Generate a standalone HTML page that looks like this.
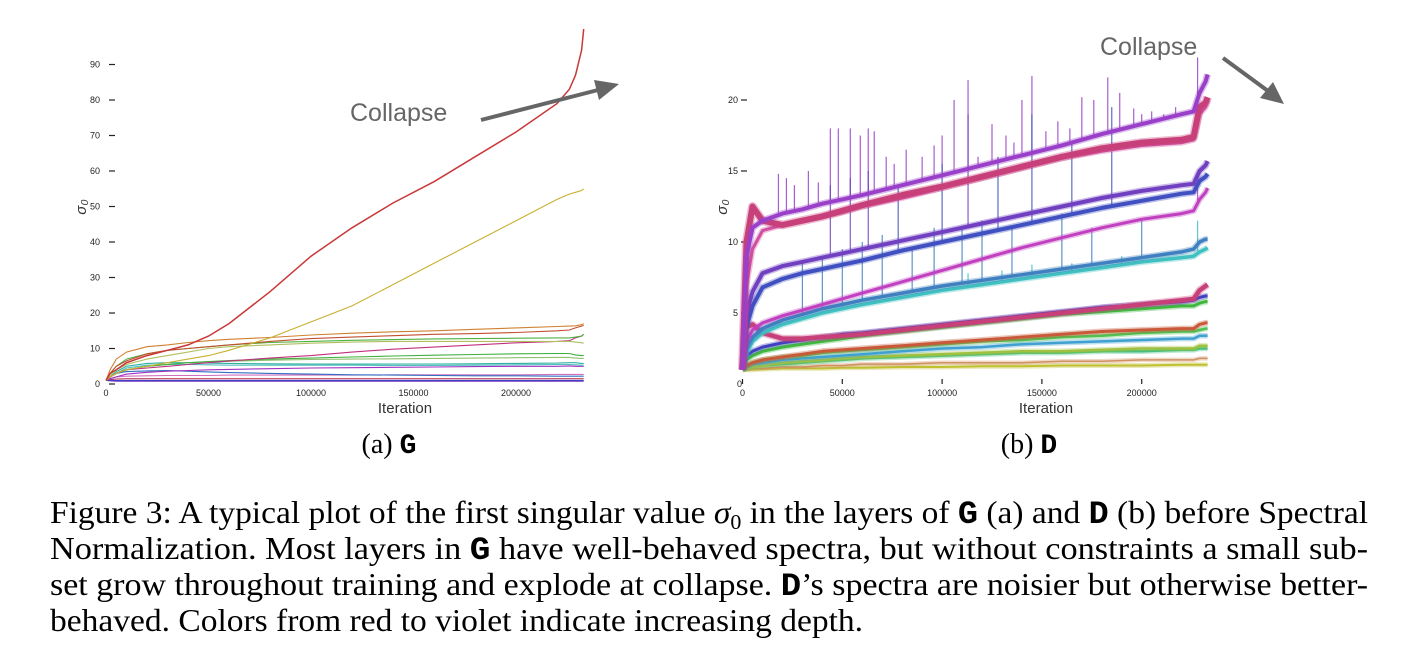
<!DOCTYPE html>
<html><head><meta charset="utf-8"><style>
body{margin:0;background:#fff;width:1406px;height:658px;overflow:hidden}
svg{display:block}
.tk{font-family:"Liberation Sans",sans-serif;font-size:9px;fill:#222}
.ax{font-family:"Liberation Sans",sans-serif;font-size:15px;fill:#333}
.cap{font-family:"Liberation Serif",serif;font-size:32px;fill:#000}
.mono{font-family:"Liberation Mono",monospace;font-weight:bold}
.col{font-family:"Liberation Sans",sans-serif;font-size:25px;fill:#666}
</style></head><body>
<svg id="fig" width="1406" height="658">
<g id="gA"></g>
<g id="gB"></g>
<text x="389" y="453" text-anchor="middle" style="font-family:'Liberation Serif',serif;font-size:28px">(a) <tspan class="mono">G</tspan></text>
<text x="1029" y="453" text-anchor="middle" style="font-family:'Liberation Serif',serif;font-size:28px">(b) <tspan class="mono">D</tspan></text>
<g>
<text class="cap" x="50" y="523" textLength="1318" lengthAdjust="spacingAndGlyphs">Figure 3: A typical plot of the first singular value <tspan font-style="italic">σ</tspan><tspan font-size="21" dy="6">0</tspan><tspan dy="-6"> in the layers of </tspan><tspan class="mono">G</tspan> (a) and <tspan class="mono">D</tspan> (b) before Spectral</text>
<text class="cap" x="50" y="559" textLength="1318" lengthAdjust="spacingAndGlyphs">Normalization.  Most layers in <tspan class="mono">G</tspan> have well-behaved spectra, but without constraints a small sub-</text>
<text class="cap" x="50" y="595" textLength="1318" lengthAdjust="spacingAndGlyphs">set grow throughout training and explode at collapse. <tspan class="mono">D</tspan>’s spectra are noisier but otherwise better-</text>
<text class="cap" x="50" y="631" textLength="813" lengthAdjust="spacingAndGlyphs">behaved. Colors from red to violet indicate increasing depth.</text>
</g>
</svg>
<script>
const iters=[0,2000,5000,10000,20000,30000,40000,50000,60000,80000,100000,120000,140000,160000,180000,200000,220000,226000,229000,232000,233000];
const gColors=["#c83838","#c8b030","#d08030","#c05030","#50b040","#b0c060","#c03080","#40b040","#90c070","#30b0a0","#50c0c0","#a030c0","#3070c0","#d070c0","#4040c0","#7030c0","#c04060"];
const gSeries=[
[1,3,4,6,8,9.5,11,13.5,17,26,36,44,51,57,64,71,79,83,87,94,100],
[1,2,3,4,5,6,7,8,9.5,13,17.5,22,28,34,40,46,52,53.5,54,54.5,55],
[1,4,7,9,10.5,11,11.7,12.2,12.6,13.1,13.8,14.3,14.7,15,15.4,15.8,16.2,16.3,16.4,16.7,17],
[1,3,5,6.5,8.5,9.5,10,10.5,11,12,12.8,13.2,13.6,14,14.2,14.5,15,15.2,15.8,16.3,16.5],
[1,3,5,7,8.5,9.5,10,10.5,11,11.7,12,12.3,12.5,12.7,12.8,12.9,13,13,13.2,13.5,14],
[1,2.5,4,5.5,7,8,9,10,10.5,11,11.5,11.8,12,12,12,12,12,12,11.8,11.6,11.5],
[1,2,3,4,4.5,5,5.5,6,6.5,7.3,8,9,9.8,10.4,11,11.6,12,12.2,13,13.5,14],
[1,2,3,4,5,5.5,6,6.3,6.6,7,7.3,7.6,7.9,8.1,8.3,8.5,8.6,8.6,8.2,8,8],
[1,2,3,4,5,5.5,6,6.2,6.4,6.7,6.9,7,7.1,7.2,7.3,7.4,7.5,7.5,7.3,7.2,7.2],
[1,2,3.5,5,5.8,6,6,5.9,5.8,5.7,5.6,5.6,5.6,5.6,5.7,5.8,5.9,6,6,5.8,5.8],
[1,2,3,4.5,5.3,5.5,5.5,5.4,5.3,5.3,5.3,5.3,5.2,5.2,5.3,5.4,5.5,5.5,5.4,5.3,5.3],
[1,1.5,2,2.8,3.3,3.6,3.8,4,4.1,4.3,4.5,4.6,4.7,4.8,4.9,5,5,5.1,5,5,5],
[1,2,3,3.5,3.7,3.8,3.6,3.4,3.2,3,2.8,2.6,2.5,2.4,2.3,2.3,2.2,2.2,2.2,2.2,2.2],
[1,1.5,2,2.2,2.3,2.4,2.4,2.4,2.5,2.5,2.5,2.5,2.6,2.6,2.6,2.6,2.7,2.7,2.7,2.7,2.7],
[1,1,1,1,1,1,1,1,1,1,1,1,1,1,1,1,1,1,1,1,1],
[1,0.9,0.8,0.8,0.8,0.8,0.8,0.8,0.8,0.8,0.8,0.8,0.8,0.8,0.8,0.8,0.8,0.8,0.8,0.8,0.8],
[1,1.2,1.4,1.5,1.5,1.5,1.5,1.5,1.5,1.5,1.5,1.5,1.5,1.5,1.5,1.5,1.5,1.5,1.5,1.5,1.5]];
const gYTicks=[0,10,20,30,40,50,60,70,80,90];
const xTicks=[0,50000,100000,150000,200000];

const dColors=["#9a40c8","#c8407a","#d050a0","#7040c0","#4050c0","#c040c0","#4080c0","#40c0c0","#c8407a","#4040c0","#40b840","#c85a3a","#50c050","#40a0d0","#a0c040","#40c080","#d09060","#c0c030"];
const dWidths=[4,6,3,4,4,3,3.5,3.5,4.5,3,3,3,2.5,2.5,2.5,2.5,1.5,2];
const dSeries=[
[1,9,11,11.5,12,12.3,12.7,13,13.3,14,14.7,15.4,16.1,16.8,17.6,18.3,19,19.2,20.5,21.3,21.8],
[1,10,12.5,11.5,11.2,11.5,11.8,12.2,12.6,13.3,13.9,14.6,15.3,16,16.6,17,17.2,17.4,19.5,19.8,20.2],
[1,7,9.5,10.8,11.2,11.5,11.8,12.1,12.5,13.1,13.8,14.5,15.2,15.9,16.4,16.8,17,17.2,19,19.5,20],
[1,5,6.5,7.8,8.3,8.6,8.9,9.2,9.5,10.1,10.7,11.3,11.9,12.5,13.1,13.6,14,14.1,15,15.4,15.7],
[1,4,5.5,6.8,7.4,7.8,8.1,8.4,8.7,9.4,10,10.6,11.2,11.8,12.4,12.9,13.4,13.5,14.3,14.6,14.8],
[1,3,3.8,4.3,4.8,5.2,5.6,6,6.4,7.2,8,8.8,9.6,10.3,11,11.6,12,12.2,13,13.5,13.8],
[1,2.5,3.3,3.9,4.5,4.9,5.3,5.6,5.9,6.4,6.9,7.3,7.7,8.1,8.5,8.9,9.3,9.5,10,10.2,10.2],
[1,2.2,3,3.6,4.2,4.6,5,5.3,5.6,6.1,6.6,7,7.4,7.8,8.2,8.6,8.9,9,9.3,9.5,9.6],
[1,4,4.2,3.6,3.2,3.2,3.3,3.4,3.5,3.8,4.1,4.4,4.7,5,5.3,5.6,5.9,6,6.6,6.9,7],
[1,2,2.3,2.6,2.9,3.1,3.3,3.5,3.6,3.9,4.2,4.5,4.8,5.1,5.4,5.6,5.8,5.9,6.1,6.2,6.2],
[1,1.7,2,2.3,2.6,2.8,3,3.2,3.4,3.7,4,4.3,4.6,4.9,5.1,5.3,5.5,5.5,5.7,5.8,5.8],
[1,1.3,1.5,1.7,1.9,2.1,2.3,2.4,2.5,2.7,2.9,3.1,3.3,3.5,3.7,3.8,3.9,3.9,4.2,4.3,4.3],
[1,1.3,1.5,1.7,1.9,2,2.2,2.3,2.4,2.6,2.8,3,3.1,3.3,3.4,3.6,3.7,3.7,3.8,3.9,3.9],
[1,1.2,1.4,1.5,1.7,1.8,1.9,2,2.1,2.3,2.5,2.6,2.8,2.9,3,3.1,3.2,3.2,3.4,3.4,3.4],
[1,1.1,1.2,1.3,1.5,1.6,1.7,1.8,1.9,2,2.1,2.2,2.3,2.3,2.4,2.5,2.5,2.5,2.7,2.7,2.7],
[1,1.1,1.2,1.3,1.4,1.5,1.6,1.7,1.8,1.9,2,2.1,2.2,2.2,2.3,2.3,2.4,2.4,2.5,2.5,2.5],
[1,1,1.1,1.1,1.2,1.2,1.3,1.3,1.4,1.4,1.5,1.5,1.5,1.6,1.6,1.7,1.7,1.7,1.8,1.8,1.8],
[1,1,1,1.05,1.1,1.1,1.1,1.15,1.15,1.2,1.2,1.25,1.25,1.3,1.3,1.3,1.35,1.35,1.35,1.35,1.35]];
// spikes: iteration, top value, series index
const spikeIters=[18000,22000,26000,33000,38000,44000,48000,54000,59000,63000,66000,72000,76000,82000,90000,96000,100000,106000,113000,118000,125000,132000,136000,140000,145000,152000,158000,164000,170000,176000,183000,189000,196000,200000,205000,211000,217000,228000,
44000,54000,63000,78000,100000,113000,128000,145000,165000,185000,
30000,40000,50000,60000,70000,85000,96000,110000,120000,135000,160000,175000,200000,228000,
20000,35000,50000,66000,90000,113000,130000,145000,165000,190000,228000];
const spikeTops=[14.8,14.5,14,15,14.2,18,18,18,17.5,18,17.8,16,15.5,16.5,16,16.8,17.5,20,21.4,16,18.3,17.5,17,20,21.7,17.8,18.5,18,20.2,20,21.6,20.5,19.4,19,19.2,19,19.5,23,
14,14.5,15,14,15.5,19,16,19,17,19.5,
8.5,9,9.5,10,10.5,9.5,11,11,11.5,11,12,11,11.5,14,
4.2,4.8,5.5,6,6.8,7.8,8,8.4,8.5,9,11.5];
const spikeSeries=[0,0,0,0,0,0,0,0,0,0,0,0,0,0,0,0,0,0,0,0,0,0,0,0,0,0,0,0,0,0,0,0,0,0,0,0,0,0,
3,3,3,4,4,3,4,4,4,4,
6,6,6,6,6,6,6,6,6,6,6,6,6,5,
7,7,7,7,7,7,7,7,7,7,7];
const dYTicks=[0,5,10,15,20];

const NS="http://www.w3.org/2000/svg";
function mk(tag,attrs,parent){const e=document.createElementNS(NS,tag);for(const k in attrs)e.setAttribute(k,attrs[k]);parent.appendChild(e);return e;}
function lerp(arr,it){for(let i=1;i<iters.length;i++){if(it<=iters[i]){const t=(it-iters[i-1])/(iters[i]-iters[i-1]);return arr[i-1]+t*(arr[i]-arr[i-1]);}}return arr[arr.length-1];}

// ---- chart G ----
(function(){
const g=document.getElementById('gA');
const X=v=>106+v/50000*102.5, Y=v=>384-v*3.55;
gYTicks.forEach(t=>{
 const tx=mk('text',{x:100,y:Y(t)+3,'text-anchor':'end',class:'tk'},g);tx.textContent=t;
 
 
 mk('line',{x1:109,x2:115,y1:Y(t),y2:Y(t),stroke:'#222','stroke-width':1.2},g);
});
xTicks.forEach(t=>{
 const tx=mk('text',{x:X(t),y:396,'text-anchor':'middle',class:'tk'},g);tx.textContent=t;
 
 
});
const xl=mk('text',{x:405,y:413,'text-anchor':'middle',class:'ax'},g);xl.textContent='Iteration';


const yl=mk('text',{x:0,y:0,'text-anchor':'middle',class:'ax',transform:'translate(86,207) rotate(-90)','font-style':'italic','font-size':'13'},g);yl.textContent='σ₀';


for(let s=gSeries.length-1;s>=0;s--){
 const d=gSeries[s].map((v,i)=>(i?'L':'M')+X(iters[i]).toFixed(1)+','+Y(v).toFixed(1)).join('');
 const p=mk('path',{d:d,fill:'none',stroke:gColors[s],'stroke-width':s===0?1.5:1.1},g);
 
 
}
const c=mk('text',{x:350,y:121,class:'col'},g);c.textContent='Collapse';


const a=mk('line',{x1:481,y1:120,x2:598,y2:90,stroke:'#666','stroke-width':4},g);


const h=mk('polygon',{points:'619,84 594,80 599,100',fill:'#666'},g);


})();

// ---- chart D ----
(function(){
const g=document.getElementById('gB');
const X=v=>742.5+v/50000*99.8, Y=v=>384-v*14.2;
dYTicks.forEach(t=>{
 const tx=mk('text',{x:(t===0?742:738),y:Y(t)+3,'text-anchor':'end',class:'tk'},g);tx.textContent=t;
 
 
 if(t>0)mk('line',{x1:741,x2:747,y1:Y(t),y2:Y(t),stroke:'#222','stroke-width':1.2},g);
});
xTicks.forEach(t=>{
 const tx=mk('text',{x:X(t),y:396,'text-anchor':'middle',class:'tk'},g);tx.textContent=t;
 
 
 mk('line',{x1:X(t),x2:X(t),y1:379,y2:384,stroke:'#222','stroke-width':1.2},g);
});
const xl=mk('text',{x:1046,y:413,'text-anchor':'middle',class:'ax'},g);xl.textContent='Iteration';


const yl=mk('text',{x:0,y:0,'text-anchor':'middle',class:'ax',transform:'translate(727,207) rotate(-90)','font-style':'italic','font-size':'13'},g);yl.textContent='σ₀';


spikeIters.forEach((it,i)=>{
 const s=spikeSeries[i];
 const l=mk('line',{x1:X(it),x2:X(it),y1:Y(lerp(dSeries[s],it)),y2:Y(spikeTops[i]),stroke:dColors[s],'stroke-width':1.2,opacity:0.85},g);
 
 
});
for(let s=dSeries.length-1;s>=0;s--){
 const d=dSeries[s].map((v,i)=>(i?'L':'M')+X(iters[i]).toFixed(1)+','+Y(v).toFixed(1)).join('');
 const n=mk('path',{d:d,fill:'none',stroke:dColors[s],'stroke-width':dWidths[s]+3,opacity:0.35,'stroke-linejoin':'round'},g);
 
 
 const p=mk('path',{d:d,fill:'none',stroke:dColors[s],'stroke-width':dWidths[s],'stroke-linejoin':'round'},g);
 
 
}
const c=mk('text',{x:1100,y:55,class:'col'},g);c.textContent='Collapse';


const a=mk('line',{x1:1223,y1:58,x2:1268,y2:91,stroke:'#666','stroke-width':4},g);


const h=mk('polygon',{points:'1284,104 1260,98 1273,82',fill:'#666'},g);


})();
</script>
</body></html>
